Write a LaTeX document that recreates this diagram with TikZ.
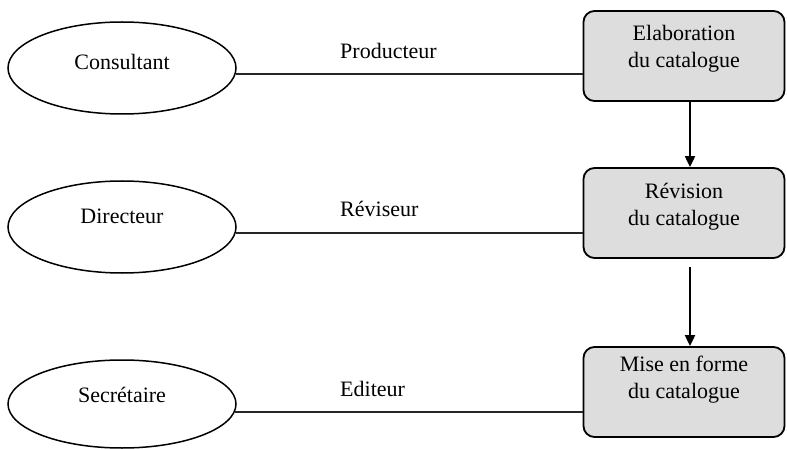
\documentclass[tikz,border=0pt]{standalone}
\usepackage{fontspec}
\setmainfont{Liberation Serif}
\usetikzlibrary{shapes.geometric,arrows.meta}
\definecolor{boxgray}{RGB}{221,221,221}
\begin{document}
\begin{tikzpicture}[x=1pt,y=-1pt,
  actor/.style={ellipse,draw,line width=1.5pt,minimum width=228pt,minimum height=92pt,inner sep=0pt},
  txt/.style={font=\fontsize{22}{27}\selectfont,align=center,inner sep=0pt},
  box/.style={draw,line width=1.8pt,rounded corners=11pt,fill=boxgray,minimum width=201pt,minimum height=90pt,inner sep=0pt},
  link/.style={line width=1.8pt,draw=black!85},
  flow/.style={line width=2pt,-{Triangle[width=10pt,length=11pt]}},
  role/.style={font=\fontsize{22}{27}\selectfont,inner sep=0pt,anchor=base west}]
\useasboundingbox[fill=white] (0,0) rectangle (787,449);

\node[actor] (e1) at (122,68) {};
\node[txt] (t1) at (122,62) {Consultant};
\node[actor] (e2) at (122,227) {};
\node[txt] (t2) at (122,216) {Directeur};
\node[actor,minimum height=88pt] (e3) at (122,404) {};
\node[txt] (t3) at (122,395) {Secrétaire};

\node[box] (b1) at (684,56) {};
\node[txt] (bt1) at (684,49) {Elaboration\\du catalogue};
\node[box] (b2) at (684,213) {};
\node[txt] (bt2) at (684,207) {Révision\\du catalogue};
\node[box] (b3) at (684,392) {};
\node[txt] (bt3) at (684,380) {Mise en forme\\du catalogue};

\draw[link] (e1.-3.6) -- (e1.-3.6 -| b1.west);
\draw[link] (e2.-3) -- (e2.-3 -| b2.west);
\draw[link] (e3.-4.6) -- (e3.-4.6 -| b3.west);

\node[role] (r1) at (340,59) {Producteur};
\node[role] (r2) at (340,217) {Réviseur};
\node[role] (r3) at (340,396) {Editeur};

\draw[flow] ([xshift=6pt]b1.south) -- ([xshift=6pt]b2.north);
\draw[flow] ([xshift=6pt,yshift=-8pt]b2.south) -- ([xshift=6pt]b3.north);
\end{tikzpicture}
\end{document}
